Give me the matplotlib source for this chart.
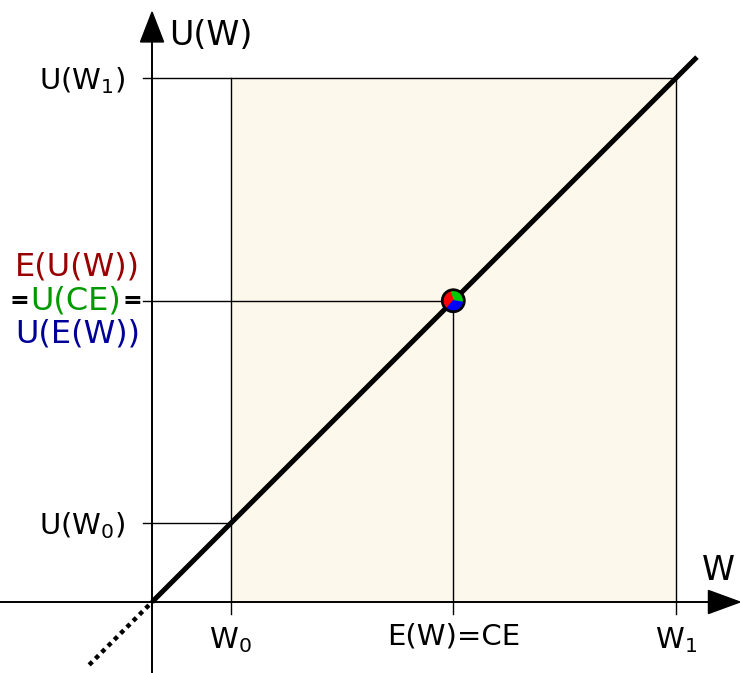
import matplotlib.pyplot as plt
from matplotlib.patches import Rectangle, Wedge, Circle, Polygon

plt.rcParams['font.family'] = ['DejaVu Sans']
plt.rcParams['mathtext.default'] = 'regular'

# 數據：財富與效用（線性效用，風險中性）
w0 = 1.5
w1 = 10.0
p = 0.5
ew = p * w0 + (1 - p) * w1      # E(W) = CE
diag_x = [0, 10.4]
dot_x = [-1.2, 0]

fig = plt.figure(figsize=(7.4, 6.73), dpi=100)
ax = fig.add_axes([0, 0, 1, 1])
ax.set_xlim(-2.9, 11.22)
ax.set_ylim(-1.355, 11.49)
ax.set_aspect('equal')
ax.axis('off')

# 淺色背景區域
ax.add_patch(Rectangle((w0, 0), w1 - w0, w1, facecolor='#fdf8ec', edgecolor='none', zorder=0))

# 軸
ax.plot([-2.9, 10.7], [0, 0], color='black', lw=1.4, zorder=2)
ax.plot([0, 0], [-1.355, 10.8], color='black', lw=1.4, zorder=2)
ax.add_patch(Polygon([[10.62, 0.22], [10.62, -0.22], [11.22, 0]], color='black', zorder=3))
ax.add_patch(Polygon([[-0.22, 10.69], [0.22, 10.69], [0, 11.26]], color='black', zorder=3))

tk = 0.18
# 參考線
ax.plot([-tk, w1], [w1, w1], color='black', lw=1.0, zorder=2)
ax.plot([w0, w0], [-tk - 0.05, w1], color='black', lw=1.0, zorder=2)
ax.plot([w1, w1], [-tk - 0.05, w1], color='black', lw=1.0, zorder=2)
ax.plot([-tk, w0], [w0, w0], color='black', lw=1.0, zorder=2)
ax.plot([-tk, ew], [ew, ew], color='black', lw=1.0, zorder=2)
ax.plot([ew, ew], [-tk - 0.05, ew], color='black', lw=1.0, zorder=2)

# 效用曲線（直線）
ax.plot(diag_x, diag_x, color='black', lw=3.6, solid_capstyle='butt', zorder=4)
ax.plot(dot_x, dot_x, color='black', lw=3.2, ls=(0, (1, 1)), zorder=4)

# 三色點
r = 0.21
ax.add_patch(Wedge((ew, ew), r, -10, 110, color='#00cc00', zorder=5))
ax.add_patch(Wedge((ew, ew), r, 110, 230, color='#ff0000', zorder=5))
ax.add_patch(Wedge((ew, ew), r, 230, 350, color='#0000ff', zorder=5))
ax.add_patch(Circle((ew, ew), r, facecolor='none', edgecolor='black', lw=2, zorder=6))

fs = 21
fc = 23
# 軸標題
ax.text(0.33, 10.82, 'U(W)', fontsize=24, ha='left', va='center')
ax.text(10.5, 0.6, 'W', fontsize=24, ha='left', va='center')

# x 軸標籤
ax.text(w0, -0.72, '$W_0$', fontsize=fs, ha='center', va='center')
ax.text(ew, -0.65, 'E(W)=CE', fontsize=fs, ha='center', va='center')
ax.text(w1, -0.72, '$W_1$', fontsize=fs, ha='center', va='center')

# y 軸標籤
ax.text(-0.5, w1 - 0.05, '$U(W_1)$', fontsize=fs, ha='right', va='center')
ax.text(-0.5, w0 - 0.05, '$U(W_0)$', fontsize=fs, ha='right', va='center')
ax.text(-2.62, ew + 0.64, 'E(U(W))', fontsize=fc, ha='left', va='center', color='#990000')
eq1 = ax.text(-2.72, ew, '=', fontsize=fs - 4, ha='left', va='center', color='black', fontweight='bold')
mid = ax.annotate('U(CE)', xy=(1, 0.5), xycoords=eq1, xytext=(1, 0), textcoords='offset points',
                  fontsize=fc, ha='left', va='center', color='#009900')
ax.annotate('=', xy=(1, 0.5), xycoords=mid, xytext=(1, 0), textcoords='offset points',
            fontsize=fs - 4, ha='left', va='center', color='black', fontweight='bold')
ax.text(-2.62, ew - 0.64, 'U(E(W))', fontsize=fc, ha='left', va='center', color='#000099')

plt.savefig('out.png', dpi=100)
plt.close()
